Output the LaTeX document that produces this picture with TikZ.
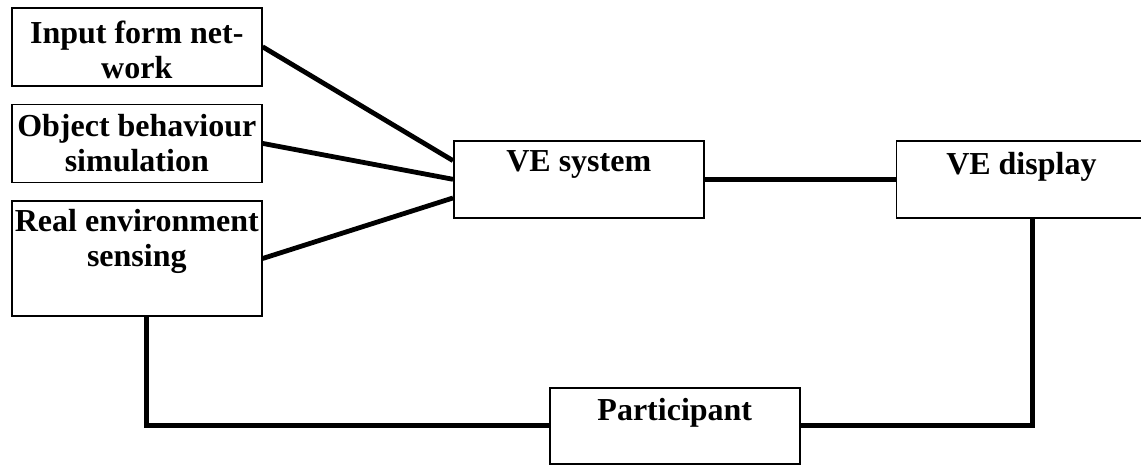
\documentclass[tikz,border=0pt]{standalone}
\usepackage{fontspec}
\setmainfont{Liberation Serif}
\usetikzlibrary{positioning}
\newcommand{\boxlabel}[3]{\parbox[c][#1][t]{187.5pt}{\centering\vspace*{#2}#3}}
\tikzset{
  block/.style={
    draw,
    black,
    rectangle,
    line width=1.2pt,
    inner sep=0pt,
    font=\bfseries\fontsize{24}{26.25}\selectfont,
  },
  link/.style={
    draw,
    line width=3.6pt,
  },
}

\begin{document}
\begin{tikzpicture}[x=0.75pt,y=-0.75pt]
  \useasboundingbox (0,0) rectangle (1141,464);

  \node (network) [block,anchor=north west] at (11,7)
    {\boxlabel{58.5pt}{10pt}{Input form net-\\work}};
  \node (behaviour) [block,below=12.75pt of network]
    {\boxlabel{58.5pt}{7.75pt}{Object behaviour\\simulation}};
  \node (sensing) [block,below=12.75pt of behaviour]
    {\boxlabel{86.25pt}{6.25pt}{Real environment\\sensing}};
  \node (system) [block,anchor=north west] at (453,140)
    {\boxlabel{57.75pt}{7.5pt}{VE system}};
  \node (display) [block,right=143.25pt of system]
    {\boxlabel{57.75pt}{8.5pt}{VE display}};
  \node (participant) [block,anchor=north west] at (549,387)
    {\boxlabel{57pt}{7.85pt}{Participant}};

  \path [link] (network.east) -- ([yshift=14pt]system.west);
  \path [link] (behaviour.east) -- (system.west);
  \path [link] (sensing.east) -- ([yshift=-14pt]system.west);
  \path [link] (system.east) -- (display.west);
  \path [link] ([xshift=8.25pt]display.south) |- (participant.east);
  \path [link] ([xshift=7.5pt]sensing.south) |- (participant.west);
\end{tikzpicture}
\end{document}
